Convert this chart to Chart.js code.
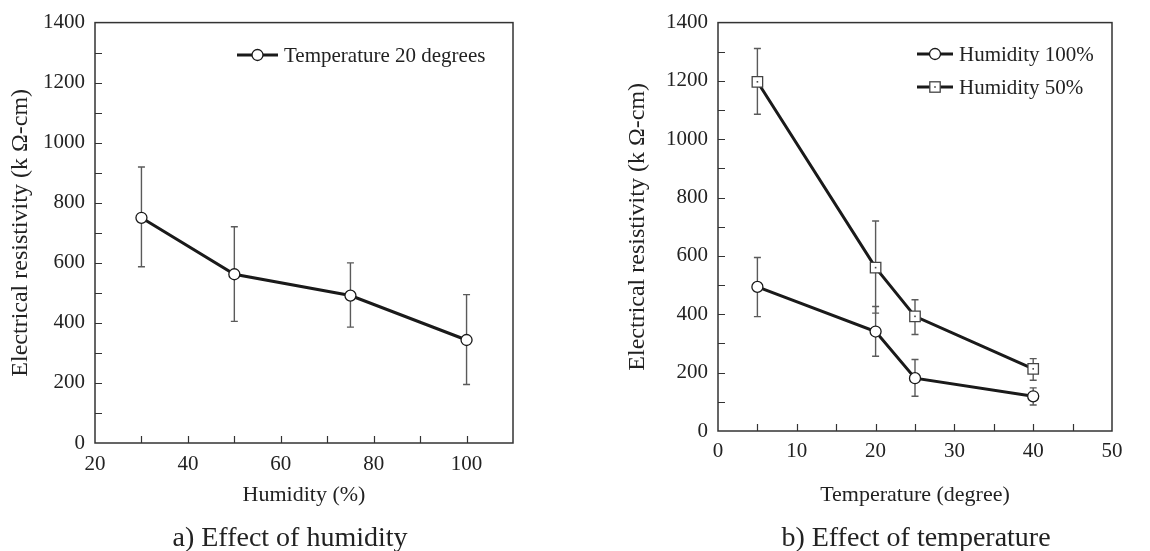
<!DOCTYPE html>
<html>
<head>
<meta charset="utf-8">
<script src="https://cdn.jsdelivr.net/npm/chart.js@4/dist/chart.umd.min.js"></script>
<style>
  html, body { margin: 0; padding: 0; background: #fff; }
  #wrap { position: relative; width: 1150px; height: 551px; overflow: hidden; }
  .pane { position: absolute; top: 0; width: 575px; height: 551px; }
  .caption {
    position: absolute; top: 522px; width: 400px; text-align: center;
    font: 28px "Liberation Serif", serif; line-height: 30px; color: #222;
  }
</style>
</head>
<body>
<div id="wrap">
  <div class="pane" style="left:0"><canvas id="chartA" width="575" height="551"></canvas></div>
  <div class="pane" style="left:575px"><canvas id="chartB" width="575" height="551"></canvas></div>
  <div class="caption" style="left:90px">a) Effect of humidity</div>
  <div class="caption" style="left:716px">b) Effect of temperature</div>
</div>
<script>
// ===== 数据 a) 湿度影响 =====
const humidity = [30, 50, 75, 100];
const resistT20 = [750, 562, 491, 343];
const resistT20Hi = [919, 720, 600, 494];
const resistT20Lo = [587, 405, 386, 195];

// ===== 数据 b) 温度影响 =====
const temperature = [5, 20, 25, 40];
const resistH100 = [494, 341, 181, 119];
const resistH100Hi = [595, 427, 245, 148];
const resistH100Lo = [392, 256, 119, 89];
const resistH50 = [1197, 560, 393, 213];
const resistH50Hi = [1311, 720, 450, 248];
const resistH50Lo = [1086, 404, 331, 174];

// 刻度
const humidityTicks = [20, 40, 60, 80, 100];
const temperatureTicks = [0, 10, 20, 30, 40, 50];
const resistTicks = [0, 200, 400, 600, 800, 1000, 1200, 1400];

const FONT = '"Liberation Serif", serif';
const INK = '#222';
const LINE = '#1a1a1a';
const ERR = '#5a5a5a';

const toXY = (xs, ys) => xs.map((x, i) => ({ x, y: ys[i] }));

// 误差线（画在数据线下面）
const errorBars = {
  id: 'errorBars',
  beforeDatasetsDraw(chart) {
    const { ctx, scales: { x, y } } = chart;
    ctx.save();
    ctx.strokeStyle = ERR;
    ctx.lineWidth = 1.4;
    chart.data.datasets.forEach(ds => {
      if (!ds.errHi) return;
      ds.data.forEach((p, i) => {
        const px = x.getPixelForValue(p.x);
        const top = y.getPixelForValue(ds.errHi[i]);
        const bot = y.getPixelForValue(ds.errLo[i]);
        ctx.beginPath();
        ctx.moveTo(px, top); ctx.lineTo(px, bot);
        ctx.moveTo(px - 3.5, top); ctx.lineTo(px + 3.5, top);
        ctx.moveTo(px - 3.5, bot); ctx.lineTo(px + 3.5, bot);
        ctx.stroke();
      });
    });
    ctx.restore();
  },
  afterDatasetsDraw(chart) {
    // 方块中心的小点
    const { ctx } = chart;
    ctx.save();
    ctx.fillStyle = '#444';
    chart.data.datasets.forEach((ds, di) => {
      if (!ds.centerDot) return;
      chart.getDatasetMeta(di).data.forEach(pt => {
        ctx.fillRect(pt.x - 0.8, pt.y - 0.8, 1.6, 1.6);
      });
    });
    ctx.restore();
  }
};

// 边框与向内刻度
const frameTicks = {
  id: 'frameTicks',
  afterDraw(chart, args, opts) {
    const { ctx, chartArea: a, scales: { x, y } } = chart;
    ctx.save();
    ctx.strokeStyle = '#333';
    ctx.lineWidth = 1.5;
    ctx.strokeRect(a.left, a.top, a.right - a.left, a.bottom - a.top);
    ctx.lineWidth = 1.2;
    ctx.beginPath();
    for (let v = x.min + opts.xMinor; v < x.max; v += opts.xMinor) {
      const px = Math.round(x.getPixelForValue(v)) + 0.5;
      ctx.moveTo(px, a.bottom); ctx.lineTo(px, a.bottom - 7);
    }
    for (let v = y.min + opts.yMinor; v < y.max; v += opts.yMinor) {
      const py = Math.round(y.getPixelForValue(v)) + 0.5;
      ctx.moveTo(a.left, py); ctx.lineTo(a.left + 7, py);
    }
    ctx.stroke();
    ctx.restore();
  }
};

function drawMarker(ctx, style, cx, cy) {
  ctx.save();
  ctx.fillStyle = '#fff';
  if (style === 'circle') {
    ctx.strokeStyle = LINE;
    ctx.lineWidth = 1.3;
    ctx.beginPath();
    ctx.arc(cx, cy, 5.5, 0, Math.PI * 2);
    ctx.fill(); ctx.stroke();
  } else {
    ctx.strokeStyle = '#444';
    ctx.lineWidth = 1.3;
    ctx.fillRect(cx - 5.2, cy - 5.2, 10.4, 10.4);
    ctx.strokeRect(cx - 5.2, cy - 5.2, 10.4, 10.4);
    ctx.fillStyle = '#444';
    ctx.fillRect(cx - 0.8, cy - 0.8, 1.6, 1.6);
  }
  ctx.restore();
}

// 图例（画在坐标区内部）
const innerLegend = {
  id: 'innerLegend',
  afterDraw(chart, args, opts) {
    const { ctx } = chart;
    ctx.save();
    chart.data.datasets.forEach((ds, i) => {
      const y = opts.y + i * opts.gap;
      ctx.strokeStyle = LINE;
      ctx.lineWidth = 3;
      ctx.beginPath();
      ctx.moveTo(opts.x, y); ctx.lineTo(opts.x + opts.len, y);
      ctx.stroke();
      drawMarker(ctx, ds.pointStyle, opts.x + opts.len / 2, y);
      ctx.fillStyle = INK;
      ctx.font = opts.size + 'px ' + FONT;
      ctx.textBaseline = 'middle';
      ctx.textAlign = 'left';
      ctx.fillText(ds.label, opts.x + opts.len + 6, y + 1);
    });
    ctx.restore();
  }
};

function seriesStyle(style) {
  const circle = style === 'circle';
  return {
    borderColor: LINE,
    borderWidth: 3,
    pointStyle: style,
    pointRadius: circle ? 5.5 : 7.4,
    pointBackgroundColor: '#fff',
    pointBorderColor: circle ? LINE : '#444',
    pointBorderWidth: 1.3,
    tension: 0,
    fill: false
  };
}

function buildOptions(cfg) {
  return {
    responsive: false,
    animation: false,
    events: [],
    layout: { padding: { left: 0, top: 21, right: cfg.padRight, bottom: 38 } },
    plugins: {
      legend: { display: false },
      tooltip: { enabled: false },
      innerLegend: cfg.legend,
      frameTicks: { xMinor: cfg.xMinor, yMinor: 100 }
    },
    scales: {
      x: {
        type: 'linear',
        min: cfg.xMin, max: cfg.xMax,
        afterBuildTicks: s => { s.ticks = cfg.xTicks.map(v => ({ value: v })); },
        afterFit: s => { s.height = cfg.xHeight; },
        grid: { display: false, drawTicks: false },
        border: { display: false },
        ticks: {
          color: INK, font: { family: FONT, size: 21 }, padding: cfg.xPad, maxRotation: 0,
          callback: v => String(v)
        },
        title: {
          display: true, text: cfg.xTitle, color: INK,
          font: { family: FONT, size: 22 }, padding: { top: 0, bottom: 5 }
        }
      },
      y: {
        min: 0, max: 1400,
        afterBuildTicks: s => { s.ticks = resistTicks.map(v => ({ value: v })); },
        afterFit: s => { s.width = cfg.yWidth; },
        grid: { display: false, drawTicks: false },
        border: { display: false },
        ticks: {
          color: INK, font: { family: FONT, size: 21 }, padding: 10,
          callback: v => String(v)
        },
        title: {
          display: true, text: 'Electrical resistivity (k Ω-cm)', color: INK,
          font: { family: FONT, size: 24 }, padding: { top: cfg.yTitlePad, bottom: 0 }
        }
      }
    }
  };
}

new Chart(document.getElementById('chartA'), {
  type: 'line',
  data: {
    datasets: [{
      label: 'Temperature 20 degrees',
      data: toXY(humidity, resistT20),
      errHi: resistT20Hi, errLo: resistT20Lo,
      ...seriesStyle('circle')
    }]
  },
  options: buildOptions({
    padRight: 62, xMin: 20, xMax: 110, xTicks: humidityTicks, xMinor: 10,
    xHeight: 70, yWidth: 95, yTitlePad: 6, xPad: 9, xTitle: 'Humidity (%)',
    legend: { x: 237, y: 55, gap: 33, len: 41, size: 21 }
  }),
  plugins: [errorBars, frameTicks, innerLegend]
});

new Chart(document.getElementById('chartB'), {
  type: 'line',
  data: {
    datasets: [{
      label: 'Humidity 100%',
      data: toXY(temperature, resistH100),
      errHi: resistH100Hi, errLo: resistH100Lo,
      ...seriesStyle('circle')
    }, {
      label: 'Humidity 50%',
      data: toXY(temperature, resistH50),
      errHi: resistH50Hi, errLo: resistH50Lo,
      centerDot: true,
      ...seriesStyle('rect')
    }]
  },
  options: buildOptions({
    padRight: 38, xMin: 0, xMax: 50, xTicks: temperatureTicks, xMinor: 5,
    xHeight: 82, yWidth: 143, yTitlePad: 48, xPad: 8, xTitle: 'Temperature (degree)',
    legend: { x: 342, y: 54, gap: 33, len: 36, size: 21 }
  }),
  plugins: [errorBars, frameTicks, innerLegend]
});
</script>
</body>
</html>
